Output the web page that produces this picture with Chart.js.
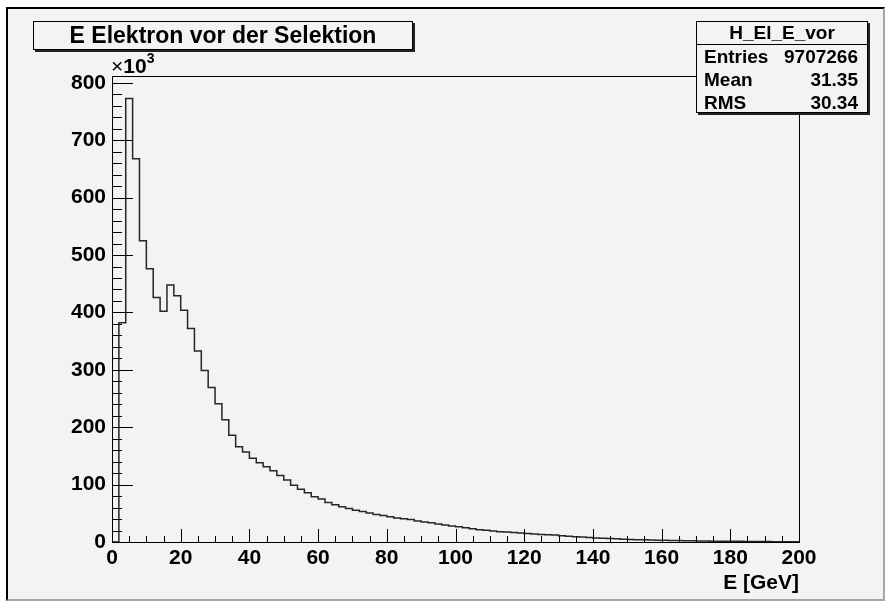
<!DOCTYPE html>
<html>
<head>
<meta charset="utf-8">
<script src="https://cdn.jsdelivr.net/npm/chart.js@4.4.1/dist/chart.umd.min.js"></script>
<style>
  body { margin: 0; background: #fff; font-family: "Liberation Sans", Arial, sans-serif; }
  #wrap { position: relative; width: 896px; height: 610px; }
  #pad {
    position: absolute; left: 6px; top: 7px; width: 879px; height: 594px; box-sizing: border-box;
    background: #f3f3f3;
    border-left: 2px solid #000; border-top: 2px solid #000;
    border-right: 2px solid #a6a6a6; border-bottom: 2px solid #a6a6a6;
  }
  canvas { position: absolute; left: 0; top: 0; }
  .box {
    position: absolute; box-sizing: border-box; background: #f3f3f3;
    border: 1px solid #000; box-shadow: 2px 2px 0 #222; font-weight: bold; color: #000;
  }
  #title { left: 33px; top: 21px; width: 380px; height: 29px; font-size: 23px; line-height: 27px; text-align: center; }
  #stats { left: 696px; top: 21px; width: 172px; height: 92px; font-size: 19px; }
  #stats .head { height: 22px; line-height: 22px; text-align: center; border-bottom: 1px solid #000; }
  #stats .row { height: 23px; line-height: 23px; padding: 0 9px 0 7px; display: flex; justify-content: space-between; }
  #exp { position: absolute; left: 111px; top: 52px; font-size: 21px; font-weight: bold; }
  #exp .x { font-weight: normal; }
  #exp sup { font-size: 14px; position: relative; top: -2px; }
</style>
</head>
<body>
<div id="wrap">
  <div id="pad"></div>
  <canvas id="c" width="896" height="610"></canvas>
  <div id="title" class="box">E Elektron vor der Selektion</div>
  <div id="stats" class="box">
    <div class="head">H_El_E_vor</div>
    <div class="row"><span>Entries</span><span>9707266</span></div>
    <div class="row"><span>Mean</span><span>31.35</span></div>
    <div class="row"><span>RMS</span><span>30.34</span></div>
  </div>
  <div id="exp"><span class="x">×</span>10<sup>3</sup></div>
</div>
<script>
// histogram H_El_E_vor: 100 bins of 2 GeV from 0 to 200, counts in units of 10^3
const binWidth = 2;
const counts = [
  0, 382, 773, 668, 525, 476, 426, 402, 448, 429,
  404, 372, 333, 299, 269, 241, 213, 186, 166, 157,
  146, 138, 131, 124, 116, 108, 99, 92, 86, 79,
  75, 69, 65, 61.5, 58.5, 55.5, 53, 50.5, 48, 46,
  44, 42, 40.5, 39, 36.5, 35, 33.5, 31.5, 29.5, 28,
  26.5, 25, 23, 21.5, 20.5, 19, 18, 17.5, 16.5, 15.5,
  15, 14, 13, 12.5, 12, 11, 10, 9, 8.5, 8,
  7, 6.5, 6, 5.5, 5, 4.5, 4, 3.8, 3.5, 3.2,
  3, 2.7, 2.4, 2.2, 2, 1.8, 1.7, 1.5, 1.4, 1.3,
  1.2, 1.1, 1, 0.9, 0.8, 0.7, 0.6, 0.5, 0.5, 0.4
];
const xTicks = [0, 20, 40, 60, 80, 100, 120, 140, 160, 180, 200];
const yTicks = [0, 100, 200, 300, 400, 500, 600, 700, 800];
const yMax = 812;

// low edge of each bin, plus closing points at the upper edge
const points = counts.map((v, i) => ({ x: i * binWidth, y: v }));
const xEnd = counts.length * binWidth;
points.push({ x: xEnd, y: counts[counts.length - 1] });
points.push({ x: xEnd, y: 0 });

// frame and ROOT style inward ticks
const frameTicks = {
  id: 'frameTicks',
  afterDatasetsDraw(chart) {
    const { ctx, chartArea: a, scales: { x, y } } = chart;
    ctx.save();
    ctx.strokeStyle = '#000';
    ctx.lineWidth = 1;
    ctx.strokeRect(a.left + 0.5, a.top + 0.5, a.right - a.left, a.bottom - a.top);
    ctx.beginPath();
    for (let v = 0; v <= 800; v += 20) {
      const py = Math.round(y.getPixelForValue(v)) + 0.5;
      const len = v % 100 === 0 ? 21 : 10;
      ctx.moveTo(a.left, py);
      ctx.lineTo(a.left + len, py);
    }
    for (let v = 0; v <= 200; v += 5) {
      const px = Math.round(x.getPixelForValue(v)) + 0.5;
      const len = v % 20 === 0 ? 13 : 6;
      ctx.moveTo(px, a.bottom);
      ctx.lineTo(px, a.bottom - len);
    }
    ctx.stroke();
    ctx.restore();
  }
};

const labelFont = { family: 'Liberation Sans', size: 21, weight: 'bold' };

new Chart(document.getElementById('c'), {
  type: 'line',
  data: {
    datasets: [{
      data: points,
      stepped: true,
      borderColor: '#262626',
      borderWidth: 1.5,
      pointRadius: 0,
      fill: false,
    }],
  },
  options: {
    responsive: false,
    animation: false,
    devicePixelRatio: 1,
    layout: { padding: { left: 0, top: 76, right: 97, bottom: 0 } },
    plugins: { legend: { display: false }, tooltip: { enabled: false } },
    scales: {
      x: {
        type: 'linear',
        min: 0,
        max: 200,
        grid: { display: false, drawTicks: false },
        border: { display: false },
        afterBuildTicks: s => { s.ticks = xTicks.map(v => ({ value: v })); },
        afterFit: s => { s.height = 68; },
        ticks: { color: '#000', font: labelFont, padding: 4, maxRotation: 0 },
        title: {
          display: true,
          text: 'E [GeV]',
          align: 'end',
          color: '#000',
          font: labelFont,
          padding: { top: 0, bottom: 14 },
        },
      },
      y: {
        type: 'linear',
        min: 0,
        max: yMax,
        grid: { display: false, drawTicks: false },
        border: { display: false },
        afterBuildTicks: s => { s.ticks = yTicks.map(v => ({ value: v })); },
        afterFit: s => { s.width = 112; },
        ticks: { color: '#000', font: labelFont, padding: 6 },
      },
    },
  },
  plugins: [frameTicks],
});
</script>
</body>
</html>
